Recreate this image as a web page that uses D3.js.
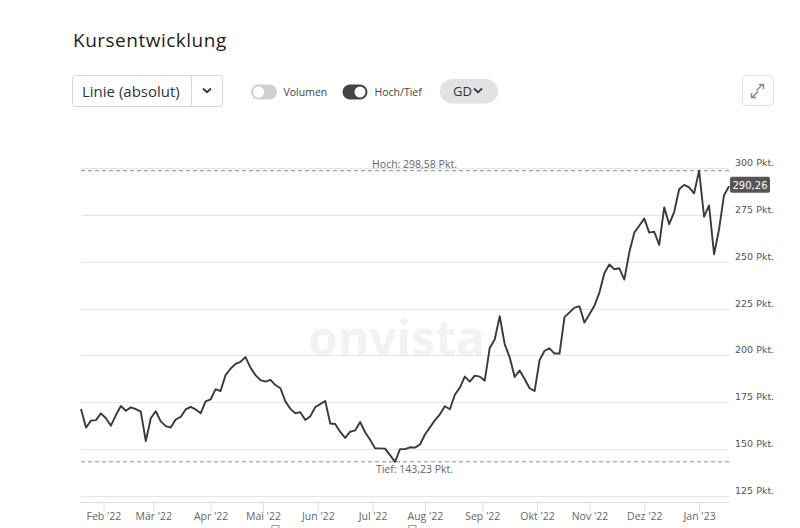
<!DOCTYPE html>
<html><head><meta charset="utf-8">
<script src="https://cdn.jsdelivr.net/npm/d3@7"></script>
<style>html,body{margin:0;padding:0;background:#fff;} svg{display:block;}</style>
</head><body><svg id="c" width="800" height="528"></svg>
<script>
// ---------- data ----------
const title = "Kursentwicklung";
const startDate = "2022-01-19";      // first trading day shown
const stepTradingDays = 2;           // one reading every 2 trading days
const closes = [
  171.4, 161.5, 165.2, 165.5, 169.1, 166.5, 162.5, 168.2, 173.0, 170.5,
  172.3, 171.3, 170.0, 154.3, 166.5, 170.2, 164.8, 162.3, 161.5, 165.8,
  167.2, 171.2, 172.5, 171.2, 169.1, 175.5, 176.5, 182.0, 181.0, 189.5,
  192.9, 195.5, 196.6, 199.1, 193.5, 189.5, 186.8, 186.0, 187.0, 184.2,
  182.5, 175.5, 171.5, 169.2, 169.7, 165.5, 167.5, 172.5, 174.0, 175.7,
  163.7, 163.4, 159.2, 156.0, 159.3, 160.0, 164.5, 159.0, 155.0, 150.4,
  150.4, 150.3, 146.8, 143.23, 150.0, 150.0, 151.0, 150.8, 152.5, 157.8,
  161.6, 165.4, 168.6, 172.9, 171.3, 179.0, 182.8, 188.7, 186.0, 189.2,
  188.7, 186.5, 204.0, 208.5, 220.9, 206.0, 199.0, 188.5, 192.0, 187.4,
  182.5, 181.0, 197.5, 202.5, 203.8, 201.0, 201.0, 220.4, 223.0, 225.5,
  226.2, 217.5, 222.0, 226.5, 233.5, 244.0, 248.5, 246.0, 246.5, 240.5,
  255.0, 265.5, 269.2, 273.0, 265.5, 266.0, 259.0, 279.0, 270.0, 276.5,
  288.7, 291.0, 289.7, 286.5, 298.58, 274.0, 280.0, 254.0, 267.2, 285.5,
  290.26
];
const yTicks = [125, 150, 175, 200, 225, 250, 275, 300];
const monthStarts = ["2022-02","2022-03","2022-04","2022-05","2022-06","2022-07",
                     "2022-08","2022-09","2022-10","2022-11","2022-12","2023-01"];
const monthLabels = ["Feb '22","Mär '22","Apr '22","Mai '22","Jun '22","Jul '22",
                     "Aug '22","Sep '22","Okt '22","Nov '22","Dez '22","Jan '23"];
const highValue = 298.58, lowValue = 143.23, lastValue = 290.26;
const eventDays = ["2022-05-09", "2022-07-25"]; // event markers (cut off at bottom)

// ---------- helpers ----------
const fmt = v => d3.format(".2f")(v).replace(".", ",");
const parse = s => { const [y,m,d] = s.split("-").map(Number); return new Date(Date.UTC(y, m-1, d||1)); };
const isWeekday = d => { const w = d.getUTCDay(); return w !== 0 && w !== 6; };
function tradingIndex(from, to) { let n = 0; const d = new Date(from); while (d < to) { if (isWeekday(d)) n++; d.setUTCDate(d.getUTCDate()+1); } return n; }
function firstWeekday(ym) { const d = parse(ym + "-01"); while (!isWeekday(d)) d.setUTCDate(d.getUTCDate()+1); return d; }

const start = parse(startDate);
const data = closes.map((v, i) => ({ idx: i * stepTradingDays, v }));
const lastIdx = (closes.length - 1) * stepTradingDays;
const tickIdx = monthStarts.map(m => tradingIndex(start, firstWeekday(m)));

// ---------- scales ----------
const x = d3.scaleLinear().domain([0, lastIdx]).range([81, 729]);
const y = d3.scaleLinear().domain([125, 300]).range([496, 168]);

const svg = d3.select("#c");
const UI = "'Open Sans', sans-serif";

// ---------- header ----------
svg.append("text").attr("x", 73).attr("y", 47).attr("font-family", UI).attr("font-size", 19)
  .attr("letter-spacing", 0.5).attr("fill", "#222").text(title);

svg.append("rect").attr("x", 72.5).attr("y", 75.5).attr("width", 150).attr("height", 31).attr("rx", 3)
  .attr("fill", "#fff").attr("stroke", "#d6d6d6");
svg.append("line").attr("x1", 191.5).attr("x2", 191.5).attr("y1", 76).attr("y2", 106).attr("stroke", "#d6d6d6");
svg.append("text").attr("x", 82).attr("y", 97).attr("font-family", UI).attr("font-size", 15)
  .attr("fill", "#333").text("Linie (absolut)");
svg.append("path").attr("d", "M203,88.5 L207,92.2 L211,88.5").attr("fill", "none")
  .attr("stroke", "#333").attr("stroke-width", 1.8);

// toggles
svg.append("rect").attr("x", 251).attr("y", 84.5).attr("width", 26).attr("height", 15).attr("rx", 7.5).attr("fill", "#cfcfcf");
svg.append("circle").attr("cx", 258.5).attr("cy", 92).attr("r", 5.5).attr("fill", "#fff");
svg.append("text").attr("x", 283.5).attr("y", 95.5).attr("font-family", UI).attr("font-size", 10.5)
  .attr("fill", "#444").text("Volumen");
svg.append("rect").attr("x", 342.5).attr("y", 84.5).attr("width", 25).attr("height", 15).attr("rx", 7.5).attr("fill", "#444");
svg.append("circle").attr("cx", 360).attr("cy", 92).attr("r", 5.5).attr("fill", "#fff");
svg.append("text").attr("x", 374.5).attr("y", 95.5).attr("font-family", UI).attr("font-size", 10.5)
  .attr("fill", "#444").text("Hoch/Tief");

// GD pill
svg.append("rect").attr("x", 440).attr("y", 79).attr("width", 58).attr("height", 24.5).attr("rx", 12.25).attr("fill", "#e2e2e2");
svg.append("text").attr("x", 453).attr("y", 96).attr("font-family", UI).attr("font-size", 13)
  .attr("fill", "#333").text("GD");
svg.append("path").attr("d", "M474,88.5 L478,92.3 L482,88.5").attr("fill", "none")
  .attr("stroke", "#333").attr("stroke-width", 1.8);

// expand button
svg.append("rect").attr("x", 742.5).attr("y", 75.5).attr("width", 31).attr("height", 30).attr("rx", 4)
  .attr("fill", "#fff").attr("stroke", "#dedede");
svg.append("path").attr("d", "M756.5,90.5 L762.5,84.5 M759,84.5 L763.5,84.5 L763.5,89")
  .attr("fill", "none").attr("stroke", "#8a8a8a").attr("stroke-width", 1.5);
svg.append("path").attr("d", "M758,91.5 L752,97.5 M751.5,93 L751.5,97.5 L756,97.5")
  .attr("fill", "none").attr("stroke", "#8a8a8a").attr("stroke-width", 1.5);

// ---------- watermark ----------
svg.append("text").attr("x", 308).attr("y", 356).attr("font-family", UI).attr("font-weight", 700)
  .attr("font-size", 50).attr("fill", "#f2f2f2").attr("textLength", 177).attr("lengthAdjust", "spacingAndGlyphs")
  .text("onvista");

// ---------- grid ----------
svg.append("g").selectAll("line").data(yTicks).join("line")
  .attr("x1", 81).attr("x2", 729).attr("y1", d => Math.round(y(d)) + 0.5).attr("y2", d => Math.round(y(d)) + 0.5)
  .attr("stroke", "#e6e6e6");

svg.append("g").selectAll("text").data(yTicks).join("text")
  .attr("x", 735).attr("y", d => y(d) - 2)
  .attr("font-family", "'DejaVu Sans', sans-serif").attr("font-size", 9.5).attr("fill", "#555")
  .text(d => d + " Pkt.");

// ---------- x axis ----------
const xAxis = d3.axisBottom(x).tickValues(tickIdx).tickFormat((d, i) => monthLabels[i])
  .tickSize(9).tickPadding(1);
const gx = svg.append("g").attr("transform", "translate(0,502.5)").call(xAxis);
gx.select(".domain").attr("stroke", "#dcdcdc").attr("d", "M80,0H730");
gx.selectAll(".tick line").attr("stroke", "#dcdcdc");
gx.selectAll(".tick text").attr("font-family", UI).attr("font-size", 10.5).attr("fill", "#666");

// event markers peeking in at the bottom edge
svg.append("g").selectAll("rect").data(eventDays).join("rect")
  .attr("x", d => x(tradingIndex(start, parse(d))) - 3.5).attr("y", 525.5).attr("width", 7).attr("height", 6)
  .attr("fill", "none").attr("stroke", "#999").attr("stroke-width", 1);

// ---------- high / low ----------
[highValue, lowValue].forEach(v => {
  svg.append("line").attr("x1", 81).attr("x2", 729).attr("y1", y(v)).attr("y2", y(v))
    .attr("stroke", "#8c8c8c").attr("stroke-dasharray", "4,3");
});
svg.append("text").attr("x", 414.5).attr("y", y(highValue) - 3).attr("text-anchor", "middle")
  .attr("font-family", UI).attr("font-size", 10.5).attr("fill", "#666").text("Hoch: " + fmt(highValue) + " Pkt.");
svg.append("text").attr("x", 414.5).attr("y", y(lowValue) + 11).attr("text-anchor", "middle")
  .attr("font-family", UI).attr("font-size", 10.5).attr("fill", "#666").text("Tief: " + fmt(lowValue) + " Pkt.");

// ---------- line ----------
svg.append("path").datum(data)
  .attr("d", d3.line().x(d => x(d.idx)).y(d => y(d.v)))
  .attr("fill", "none").attr("stroke", "#3a3a3a").attr("stroke-width", 1.9).attr("stroke-linejoin", "round");

// ---------- last value badge ----------
const by = y(lastValue) - 1.5;
svg.append("rect").attr("x", 730).attr("y", by - 8).attr("width", 40).attr("height", 16).attr("rx", 2).attr("fill", "#555");
svg.append("text").attr("x", 750).attr("y", by + 3.8).attr("text-anchor", "middle")
  .attr("font-family", "'DejaVu Sans', sans-serif").attr("font-size", 10).attr("fill", "#fff").text(fmt(lastValue));
</script></body></html>
